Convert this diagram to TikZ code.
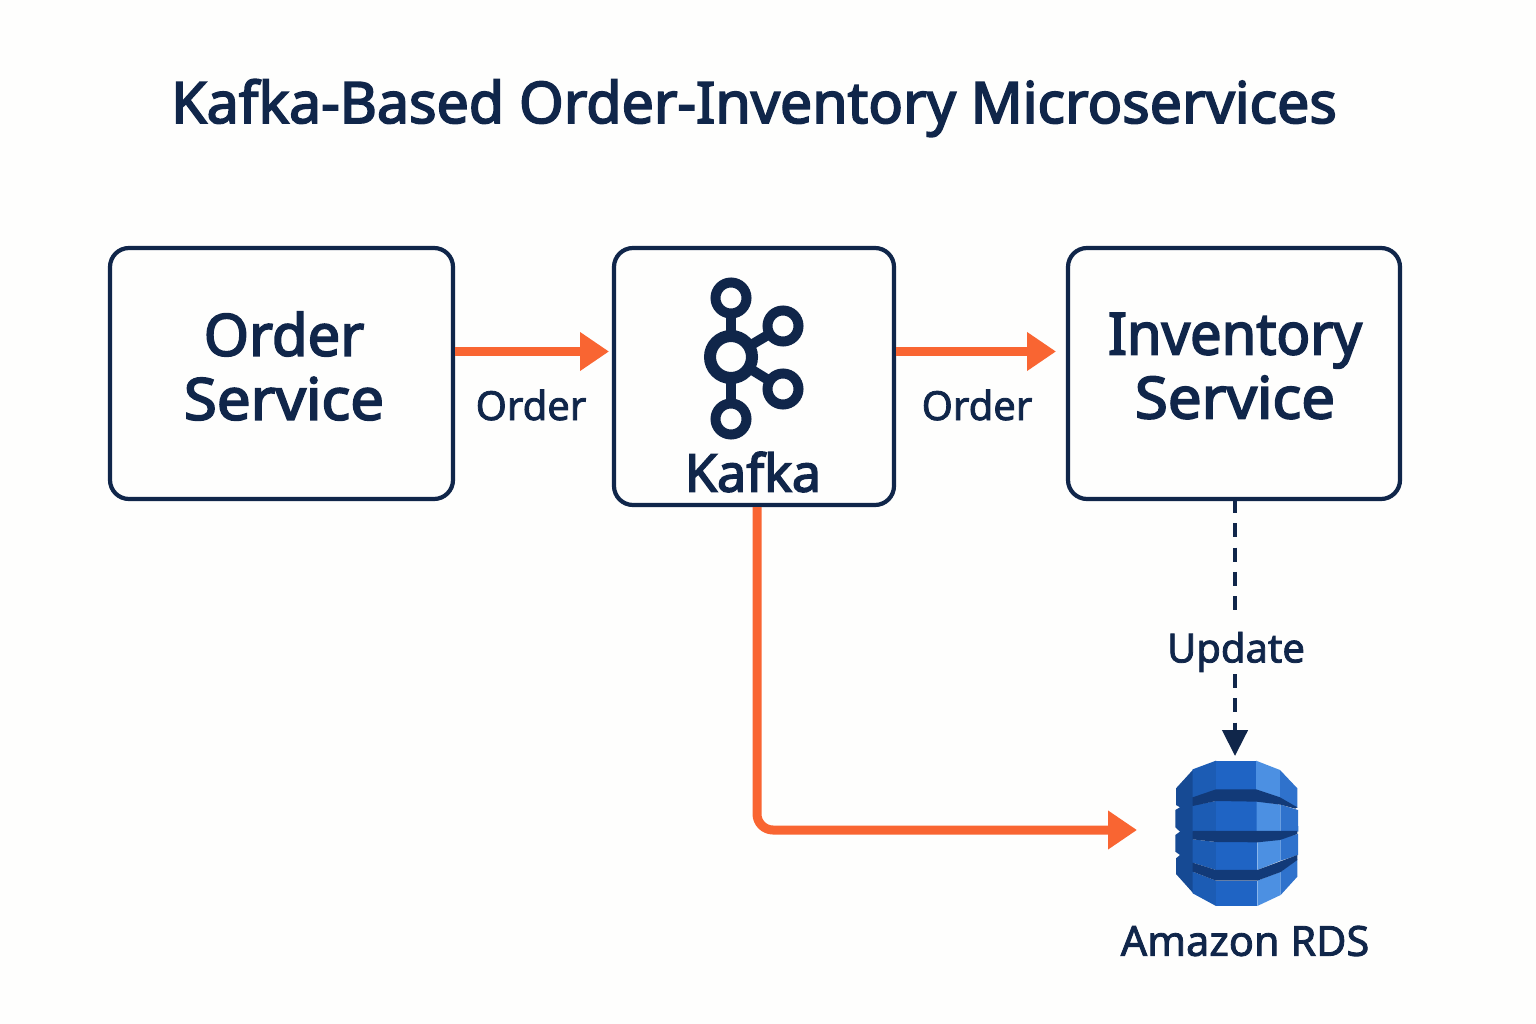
\documentclass[tikz,border=0pt]{standalone}
\usepackage{graphicx}
\usepackage{fontspec}
\setmainfont{Noto Sans}[FakeBold=3]
\newfontfamily\medfont{Noto Sans}[FakeBold=2]
\usetikzlibrary{arrows.meta,calc}
\definecolor{navy}{HTML}{10264A}
\definecolor{orangeflow}{HTML}{F96532}
\definecolor{paper}{HTML}{FEFEFD}
\definecolor{dbdark}{HTML}{123A78}
\definecolor{dbleft}{HTML}{164A94}
\definecolor{dbmid}{HTML}{1F64C4}
\definecolor{dbface}{HTML}{1C5CB4}
\definecolor{dblight}{HTML}{4C90E2}
\definecolor{dbside}{HTML}{2F72CC}
\tikzset{
  svc/.style={draw=navy,line width=4.2pt,rounded corners=19pt,fill=paper,inner sep=0pt,outer sep=0pt,align=center,text=navy},
  svctext/.style={text=navy,align=center,font=\fontsize{58}{64}\selectfont},
  flow/.style={draw=orangeflow,line width=9pt,-{Triangle[length=29pt,width=37pt]}},
  updateline/.style={draw=navy,line width=4.5pt,dash pattern=on 14pt off 10.3pt},
  lbl/.style={font=\medfont\fontsize{40}{48}\selectfont,text=navy},
  ring/.style={draw=navy,line width=10pt,fill=paper},
  spoke/.style={draw=navy,line width=10pt},
}
\begin{document}
\begin{tikzpicture}[x=1pt,y=-1pt]
\useasboundingbox (0,0) rectangle (1536,1024);
\fill[paper] (0,0) rectangle (1536,1024);
\node[font=\fontsize{57.3}{64}\selectfont,text=navy] (title) at (754,108) {Kafka-Based Order-Inventory Microservices};
\node[svc,minimum width=343pt,minimum height=251pt] (order) at (281.5,373.5) {};
\node[svc,minimum width=280pt,minimum height=257pt] (kafka) at (754,376.5) {};
\node[svc,minimum width=332pt,minimum height=251pt] (inv) at (1234,373.5) {};
\node[svctext] (ordertxt) at (284,366) {Order\\\scalebox{1.035}[1]{Service}};
\node[svctext] (invtxt) at (1235,366) {\scalebox{0.965}[1]{Inventory}\\\scalebox{1.035}[1]{Service}};
\node[font=\fontsize{52}{60}\selectfont,text=navy] (kafkatxt) at (753,472) {Kafka};
% Kafka icon
\draw[spoke] (731,298) -- (731,357);
\draw[spoke] (731,419) -- (731,357);
\draw[spoke] (783,326) -- (731,357);
\draw[spoke] (783,389) -- (731,357);
\filldraw[ring] (731,298) circle (15.5pt);
\filldraw[ring] (731,419) circle (15.5pt);
\filldraw[ring] (783,326) circle (15.5pt);
\filldraw[ring] (783,389) circle (15.5pt);
\filldraw[draw=navy,line width=12pt,fill=paper] (731,357) circle (21pt);
% Database icon
\begin{scope}[shift={(1140,720)},x=0.3333pt,y=-0.3333pt]
\fill[dbleft] (108,205)--(160,148)--(160,520)--(108,462)--(108,415)--(120,405)--(106,395)--(106,345)--(120,335)--(106,322)--(106,270)--(120,262)--(108,255)--cycle;
\fill[dbface] (158,148)--(228,122)--(228,230)--(158,232)--cycle;
\fill[dbmid] (228,122)--(348,122)--(348,210)--(228,210)--cycle;
\fill[dblight] (348,122)--(420,150)--(420,234)--(348,210)--cycle;
\fill[dbside] (420,150)--(472,205)--(472,264)--(420,234)--cycle;
\fill[dbface] (158,256)--(228,243)--(228,335)--(158,335)--cycle;
\fill[dbmid] (228,243)--(350,243)--(350,335)--(228,335)--cycle;
\fill[dblight] (350,243)--(422,254)--(422,335)--(350,335)--cycle;
\fill[dbside] (422,254)--(474,270)--(475,335)--(422,335)--cycle;
\fill[dbface] (158,358)--(228,366)--(228,450)--(158,428)--cycle;
\fill[dbmid] (228,366)--(352,366)--(352,450)--(228,450)--cycle;
\fill[dblight] (352,366)--(422,356)--(422,422)--(352,450)--cycle;
\fill[dbside] (422,356)--(474,342)--(474,405)--(422,422)--cycle;
\fill[dbface] (158,455)--(228,482)--(228,558)--(158,520)--cycle;
\fill[dbmid] (228,482)--(352,482)--(352,558)--(228,558)--cycle;
\fill[dblight] (352,482)--(422,455)--(422,525)--(352,558)--cycle;
\fill[dbside] (422,455)--(472,418)--(472,470)--(422,525)--cycle;
\fill[dbdark] (158,232)--(228,208)--(348,208)--(420,232)--(472,262)--(466,266)--(422,254)--(350,245)--(228,243)--(158,258)--cycle;
\fill[dbdark] (158,333)--(350,333)--(472,333)--(472,342)--(420,360)--(352,367)--(228,366)--(158,358)--cycle;
\fill[dbdark] (158,428)--(228,450)--(352,450)--(472,405)--(472,420)--(422,456)--(352,482)--(228,482)--(158,455)--cycle;
\end{scope}
\coordinate (dbtop) at (1235,756);
\coordinate (dbwest) at (1137,830);
\coordinate (row) at (0,351.5);
\coordinate (gaptop) at (1235,611);
\coordinate (gapbot) at (1235,674);
\node[font=\medfont\fontsize{41.5}{48}\selectfont,text=navy] (rdstxt) at (1245,941) {Amazon RDS};
% Connectors
\draw[flow] ([xshift=2pt]order.east |- row) -- ([xshift=-5pt]kafka.west |- row);
\draw[flow] ([xshift=2pt]kafka.east |- row) -- ([xshift=-12pt]inv.west |- row);
\draw[flow,rounded corners=16pt] ([xshift=3pt,yshift=-2pt]kafka.south) -- ([xshift=3pt]kafka.south |- dbwest) -- (dbwest);
\draw[updateline] (inv.south -| dbtop) -- (gaptop);
\draw[updateline,-{Triangle[length=26pt,width=25pt]}] (gapbot) -- (dbtop);
\node[lbl] (updlbl) at (1236,652) {Update};
\node[lbl] (ord1) at (531,405) {Order};
\node[lbl] (ord2) at (977,405) {Order};
\end{tikzpicture}
\end{document}
